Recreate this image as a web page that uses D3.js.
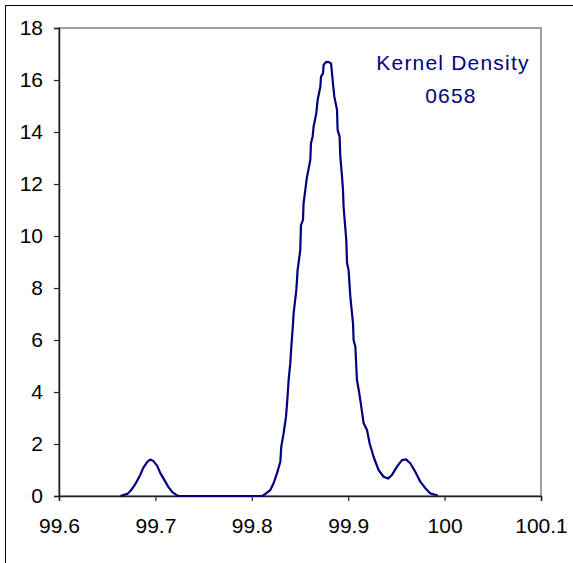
<!DOCTYPE html>
<html>
<head>
<meta charset="utf-8">
<script src="https://cdn.jsdelivr.net/npm/d3@7/dist/d3.min.js"></script>
<style>
  html, body { margin: 0; padding: 0; background: #fff; }
  svg { display: block; }
  text { font-family: "Liberation Sans", Arial, sans-serif; }
</style>
</head>
<body>
<svg id="chart" width="573" height="563"></svg>
<script>
// ---- Data ----
const densityX = [
  99.6636, 99.6709, 99.6740, 99.6792, 99.6843, 99.6874, 99.6916, 99.6947, 99.6978, 99.7020,
  99.7051, 99.7092, 99.7134, 99.7175, 99.7217, 99.7237, 99.8109, 99.8141, 99.8192, 99.8226,
  99.8261, 99.8296, 99.8306, 99.8330, 99.8355, 99.8371, 99.8382, 99.8399, 99.8410, 99.8423,
  99.8434, 99.8462, 99.8475, 99.8503, 99.8510, 99.8531, 99.8537, 99.8555, 99.8573, 99.8607,
  99.8614, 99.8631, 99.8641, 99.8669, 99.8683, 99.8711, 99.8718, 99.8739, 99.8745, 99.8768,
  99.8791, 99.8822, 99.8832, 99.8842, 99.8856, 99.8884, 99.8890, 99.8911, 99.8918, 99.8936,
  99.8946, 99.8952, 99.8980, 99.8988, 99.9004, 99.9022, 99.9050, 99.9056, 99.9074, 99.9091,
  99.9115, 99.9136, 99.9160, 99.9195, 99.9222, 99.9263, 99.9315, 99.9367, 99.9413, 99.9454,
  99.9506, 99.9558, 99.9600, 99.9644, 99.9696, 99.9748, 99.9800, 99.9852, 99.9921, 99.9924
];
const densityY = [
  0.00, 0.08, 0.19, 0.46, 0.81, 1.08, 1.31, 1.40, 1.35, 1.15,
  0.88, 0.62, 0.35, 0.15, 0.04, 0.00, 0.00, 0.08, 0.23, 0.49,
  0.87, 1.32, 1.90, 2.41, 3.05, 3.82, 4.46, 5.10, 5.74, 6.38,
  7.03, 7.92, 8.69, 9.46, 10.42, 10.62, 11.26, 11.77, 12.28, 12.92,
  13.57, 13.82, 14.20, 14.72, 15.23, 15.74, 16.13, 16.26, 16.58, 16.69,
  16.70, 16.64, 16.26, 15.87, 15.36, 14.85, 14.08, 13.82, 13.05, 12.28,
  11.77, 11.13, 9.85, 8.95, 8.69, 7.67, 6.64, 6.00, 5.74, 4.46,
  3.95, 3.43, 2.80, 2.54, 2.03, 1.51, 1.00, 0.74, 0.67, 0.81,
  1.13, 1.38, 1.41, 1.26, 0.93, 0.55, 0.30, 0.10, 0.03, 0.00
];
const xTicks = [99.6, 99.7, 99.8, 99.9, 100, 100.1];
const yTicks = [0, 2, 4, 6, 8, 10, 12, 14, 16, 18];
const titleLines = ["Kernel Density", "0658"];

// ---- Layout ----
const svg = d3.select("#chart");
const pLeft = 59, pRight = 541, pTop = 28, pBottom = 496;

const x = d3.scaleLinear().domain([99.6, 100.1]).range([pLeft, pRight]);
const y = d3.scaleLinear().domain([0, 18]).range([pBottom, pTop]);

// outer frame
svg.append("rect")
  .attr("x", 5.5).attr("y", 5.5)
  .attr("width", 620).attr("height", 620)
  .attr("fill", "none").attr("stroke", "#000").attr("stroke-width", 1);

// plot area border (gray top/right)
svg.append("rect")
  .attr("x", pLeft).attr("y", pTop)
  .attr("width", pRight - pLeft).attr("height", pBottom - pTop)
  .attr("fill", "none").attr("stroke", "#808080").attr("stroke-width", 1.5);

// axes
const xAxis = d3.axisBottom(x).tickValues(xTicks).tickSize(5).tickPadding(17)
  .tickFormat(d => String(+d.toFixed(1)));
const yAxis = d3.axisLeft(y).tickValues(yTicks).tickSize(5).tickPadding(11)
  .tickFormat(d3.format("d"));

const gx = svg.append("g").attr("transform", `translate(0,${pBottom})`).call(xAxis);
const gy = svg.append("g").attr("transform", `translate(${pLeft},0)`).call(yAxis);

[gx, gy].forEach(g => {
  g.selectAll("path.domain").attr("stroke", "#222").attr("stroke-width", 1.5);
  g.selectAll(".tick line").attr("stroke", "#222").attr("stroke-width", 1.2);
  g.selectAll(".tick text")
    .attr("fill", "#000")
    .style("font-family", '"Liberation Sans", Arial, sans-serif')
    .style("font-size", "21px");
});
gy.selectAll(".tick text").attr("dy", "0.33em");
gx.selectAll(".tick text").attr("dy", "0.71em");

// density curve
const pts = densityX.map((d, i) => [d, densityY[i]]);
const line = d3.line().x(d => x(d[0])).y(d => y(d[1]));
svg.append("path")
  .datum(pts)
  .attr("d", line)
  .attr("fill", "none")
  .attr("stroke", "#000080")
  .attr("stroke-width", 2.2)
  .attr("stroke-linejoin", "round");

// annotation
svg.append("text")
  .attr("x", 453).attr("y", 70)
  .attr("text-anchor", "middle")
  .attr("fill", "#000080")
  .style("font-size", "21px")
  .style("letter-spacing", "1.2px")
  .text(titleLines[0]);
svg.append("text")
  .attr("x", 451).attr("y", 103)
  .attr("text-anchor", "middle")
  .attr("fill", "#000080")
  .style("font-size", "21px")
  .style("letter-spacing", "1.2px")
  .text(titleLines[1]);
</script>
</body>
</html>
